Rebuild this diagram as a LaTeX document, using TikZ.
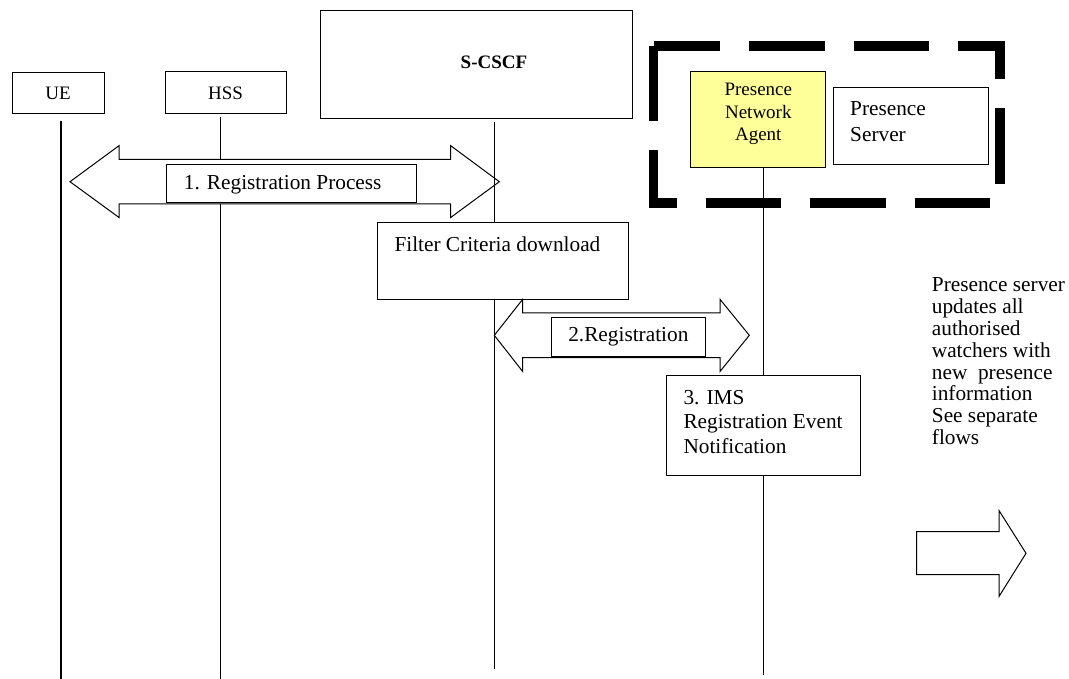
\documentclass[tikz,border=0pt]{standalone}
\usepackage{fontspec}
\setmainfont{Liberation Serif}
\usepackage{tikz}
\usetikzlibrary{positioning}
\usepackage{xcolor}
\definecolor{pnayellow}{RGB}{255,255,153}
\newcommand{\bigfont}{\fontsize{21.3pt}{26pt}\selectfont}
\newcommand{\smallfont}{\fontsize{19pt}{22.2pt}\selectfont}

\begin{document}
\begin{tikzpicture}[
  x=1pt, y=-1pt,
  box/.style={draw, line width=1pt, fill=white, inner sep=0pt},
  txt/.style={inner sep=0pt, align=left, font=\bigfont},
  life/.style={line width=1.1pt},
  blockarrow/.style={draw, line width=1pt, fill=white, line join=miter},
  groupline/.style={line width=9.5pt, dash pattern=on 75.5pt off 29pt}
]
  \useasboundingbox (0,0) rectangle (1069,679);

  % Presence group
  \draw[groupline] (653.5,46) -- (653.5,203) -- (1000,203) -- (1000,46) -- cycle;

  % Entities
  \node[box, minimum width=92pt, minimum height=41pt, font=\smallfont] (ue) at (58,93.5) {UE};
  \node[box, minimum width=121pt, minimum height=42pt, font=\smallfont] (hss) at (225.5,93) {HSS};
  \node[box, minimum width=311.6pt, minimum height=108.3pt] (scscf) at (476.5,64.85) {};
  \node[font=\smallfont\bfseries, inner sep=0pt] (scscf label) at (494,62) {S-CSCF};

  % Lifelines
  \coordinate (ue top) at (61,121);
  \coordinate (ue end) at (61,679);
  \coordinate (hss top) at (220.7,117);
  \coordinate (hss end) at (220.7,679);
  \coordinate (scscf top) at (494.2,121.7);
  \coordinate (scscf end) at (494.2,669.3);
  \coordinate (pna top) at (763.3,167.7);
  \coordinate (pna end) at (763.3,675);
  \draw[life] (ue top) -- (ue end);
  \draw[life] (hss top) -- (hss end);

  % 1. Registration Process
  \draw[blockarrow] (70,181.7) -- (119,145.7) -- (119,159.3) -- (450.7,159.3) -- (450.7,145.7)
    -- (499.3,181.7) -- (450.7,217.5) -- (450.7,204) -- (119,204) -- (119,217.5) -- cycle;
  \node[box, minimum width=250.4pt, minimum height=38.4pt] (reg) at (291.5,183.5) {};
  \node[txt, anchor=west] (reg label) at (183.7,184.5) {1. Registration Process};
  \draw[life] (scscf top) -- (scscf end);

  % Filter Criteria download
  \node[box, minimum width=251.4pt, minimum height=77pt] (filter) at (503,260.8) {};
  \node[txt, anchor=west] (filter label) at (394.3,244.3) {Filter Criteria download};

  % 2.Registration
  \draw[blockarrow] (494.3,335.3) -- (522.7,299.3) -- (522.7,312.9) -- (720,312.9) -- (720,299.3)
    -- (749.3,335.3) -- (720,371.5) -- (720,357.7) -- (522.7,357.7) -- (522.7,371.5) -- cycle;
  \node[box, minimum width=154.7pt, minimum height=39pt, font=\bigfont] (reg2) at (628.35,337.2) {2.Registration};

  % 3. IMS Registration Event Notification
  \draw[life] (pna top) -- (pna end);
  \node[box, minimum width=194pt, minimum height=99.3pt] (ims) at (763,425.35) {};
  \node[txt, anchor=west, font={\fontsize{21.3pt}{24.4pt}\selectfont}] (ims label) at (683.3,421.7)
    {3. IMS\\Registration Event\\Notification};

  % Presence Network Agent and Presence Server
  \node[box, fill=pnayellow, minimum width=135pt, minimum height=96pt] (pna) at (758.2,119.7) {};
  \node[inner sep=0pt, align=center, font=\smallfont] (pna label) at (758.3,114) {Presence\\Network\\Agent};
  \node[box, minimum width=154.6pt, minimum height=77pt] (ps) at (911,126.2) {};
  \node[txt, anchor=west] (ps label) at (850,121.3) {Presence\\Server};

  % Watcher update
  \node[txt, anchor=west, font={\fontsize{21.3pt}{21.8pt}\selectfont}] (note) at (931.7,361.4)
    {Presence server\\updates all\\authorised\\watchers with\\new\ \ presence\\information\\See separate\\flows};
  \draw[blockarrow] (916.7,531.7) -- (999,531.7) -- (999,510.5) -- (1026,553.3) -- (999,596.5)
    -- (999,574.5) -- (916.7,574.5) -- cycle;
\end{tikzpicture}
\end{document}
